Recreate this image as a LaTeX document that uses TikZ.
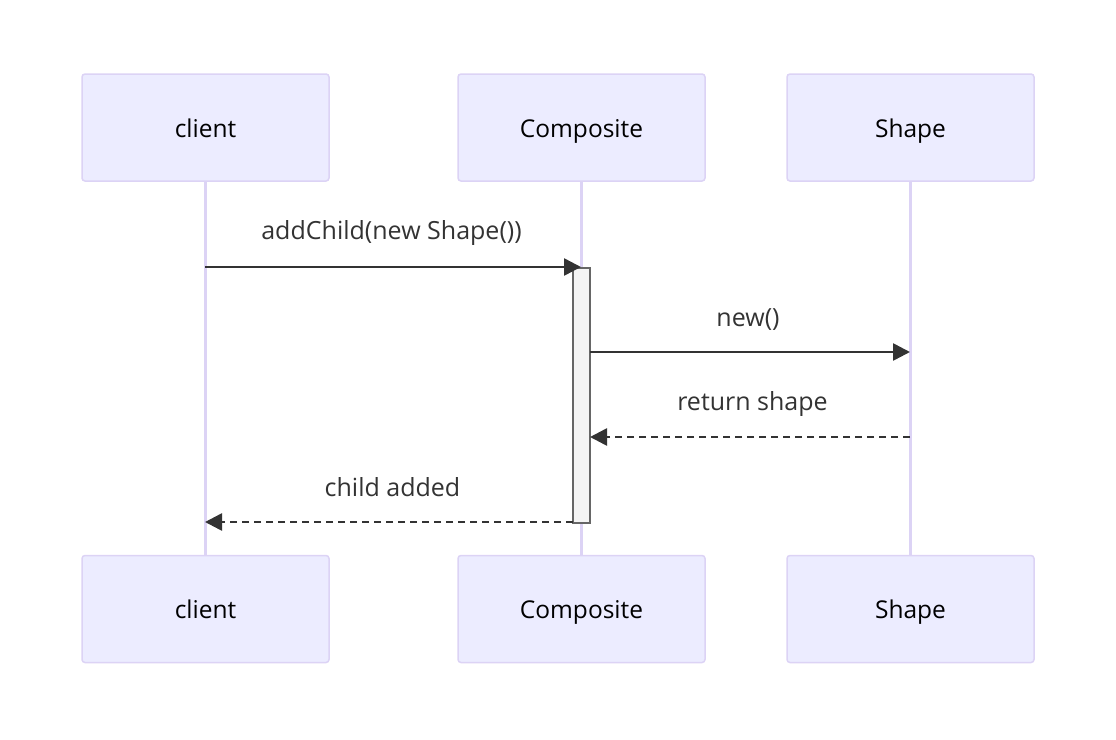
\documentclass[tikz,border=0pt]{standalone}
\usepackage{fontspec}
\setmainfont{Open Sans}
\usetikzlibrary{arrows.meta}
\definecolor{actfill}{HTML}{ECECFF}
\definecolor{actline}{HTML}{DCD3F5}
\definecolor{msg}{HTML}{333333}
\definecolor{actvfill}{HTML}{F4F4F4}
\definecolor{actvline}{HTML}{666666}
\tikzset{
  actor/.style={draw=actline, fill=actfill, line width=1.5pt, rounded corners=3pt,
    minimum width=247pt, minimum height=107pt, inner sep=0pt},
  actortext/.style={anchor=base, inner sep=0pt, font=\fontsize{24.5}{28}\selectfont, text=black},
  lifeline/.style={draw=actline, line width=3pt},
  msgline/.style={draw=msg, line width=2.6pt, -{Triangle[length=17pt,width=17pt]}},
  retline/.style={msgline, dash pattern=on 7pt off 5pt},
  msglabel/.style={anchor=base, inner sep=0pt, font=\fontsize{25}{29}\selectfont, text=msg},
}
\begin{document}
\begin{tikzpicture}[x=1pt,y=-1pt]
\useasboundingbox (0,0) rectangle (1116,739);
% lifelines
\coordinate (l1t) at (205,181); \coordinate (l1b) at (205,556);
\coordinate (l2t) at (581,181); \coordinate (l2b) at (581,556);
\coordinate (l3t) at (910,181); \coordinate (l3b) at (910,556);
\draw[lifeline] (l1t) -- (l1b);
\draw[lifeline] (l2t) -- (l2b);
\draw[lifeline] (l3t) -- (l3b);
% actors
\node[actor] (ct) at (205.5,127.5) {};
\node[actor] (cot) at (581.5,127.5) {};
\node[actor] (st) at (910.5,127.5) {};
\node[actor] (cb) at (205.5,609) {};
\node[actor] (cob) at (581.5,609) {};
\node[actor] (sb) at (910.5,609) {};
\node[actortext] (ctt) at (205.5,137) {client};
\node[actortext] (cott) at (581.5,137) {Composite};
\node[actortext] (stt) at (910.5,137) {Shape};
\node[actortext] (cbt) at (205.5,618) {client};
\node[actortext] (cobt) at (581.5,618) {Composite};
\node[actortext] (sbt) at (910.5,618) {Shape};
% activation
\node[draw=actvline, fill=actvfill, line width=1.5pt, minimum width=17pt, minimum height=255pt, inner sep=0pt, anchor=north] (act) at (581.5,267) {};
% messages
\coordinate (m1s) at (205,267); \coordinate (m1e) at (581,267);
\coordinate (m2s) at (590,352); \coordinate (m2e) at (910,352);
\coordinate (m3s) at (910,437); \coordinate (m3e) at (590,437);
\coordinate (m4s) at (573,522); \coordinate (m4e) at (205,522);
\draw[msgline] (m1s) -- (m1e);
\draw[msgline] (m2s) -- (m2e);
\draw[retline] (m3s) -- (m3e);
\draw[retline] (m4s) -- (m4e);
\node[msglabel] (t1) at (391.5,239) {addChild(new Shape())};
\node[msglabel] (t2) at (748,326) {new()};
\node[msglabel] (t3) at (752.5,410) {return shape};
\node[msglabel] (t4) at (392.5,496) {child added};
\end{tikzpicture}
\end{document}
